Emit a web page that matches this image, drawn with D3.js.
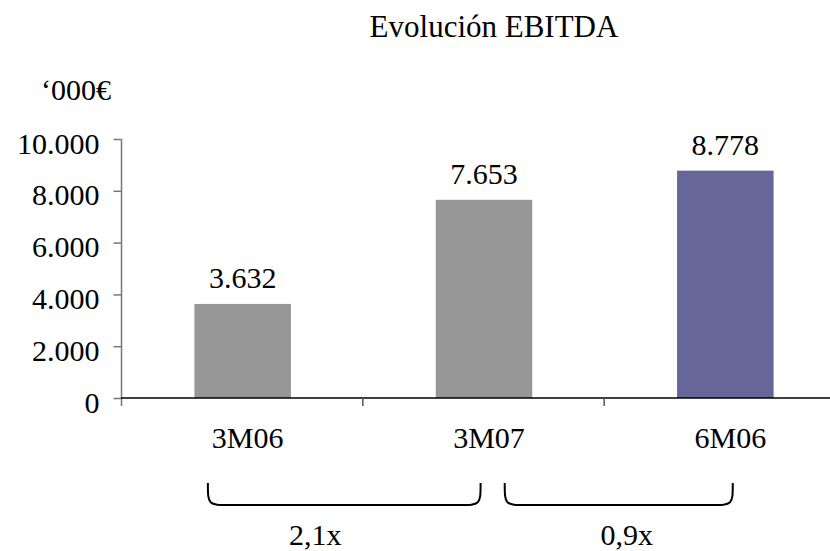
<!DOCTYPE html>
<html>
<head>
<meta charset="utf-8">
<script src="https://cdn.jsdelivr.net/npm/d3@7/dist/d3.min.js"></script>
<style>
  html, body { margin: 0; padding: 0; background: #fff; }
  svg { display: block; font-family: "Liberation Serif", "Times New Roman", serif; }
</style>
</head>
<body>
<svg id="chart" width="830" height="551"></svg>
<script>
// EBITDA by period, in thousands of euros
const categories = ["3M06", "3M07", "6M06"];
const values = [3632, 7653, 8778];
const valueLabels = ["3.632", "7.653", "8.778"];
const barColors = ["#969696", "#969696", "#666699"];

const yTicks = [0, 2000, 4000, 6000, 8000, 10000];
const yTickLabels = ["0", "2.000", "4.000", "6.000", "8.000", "10.000"];

// growth multiples shown under pairs of periods
const comparisons = [
  { from: "3M06", to: "3M07", label: "2,1x" },
  { from: "3M07", to: "6M06", label: "0,9x" }
];

const title = "Evolución EBITDA";
const unitLabel = "‘000€";

const svg = d3.select("#chart");
const W = 830, H = 551;
const serif = "Liberation Serif, Times New Roman, serif";
svg.append("rect").attr("width", W).attr("height", H).attr("fill", "#fff");

const x = d3.scaleBand().domain(categories).range([121, 845]).padding(0);
const y = d3.scaleLinear().domain([0, 10000]).range([398, 139]);
const barW = x.bandwidth() * 0.4;

// title and unit
svg.append("text").attr("x", 494).attr("y", 37).attr("text-anchor", "middle")
  .attr("font-size", 31).attr("fill", "#000").text(title);
svg.append("text").attr("x", 41).attr("y", 100).attr("text-anchor", "start")
  .attr("font-size", 30).attr("fill", "#000").text(unitLabel);

// bars
svg.selectAll("rect.bar").data(values).enter().append("rect")
  .attr("class", "bar")
  .attr("x", (d, i) => x(categories[i]) + x.bandwidth() / 2 - barW / 2 + 1)
  .attr("y", d => y(d))
  .attr("width", barW)
  .attr("height", d => y(0) - y(d))
  .attr("fill", (d, i) => barColors[i]);

// value labels
svg.selectAll("text.val").data(values).enter().append("text")
  .attr("class", "val")
  .attr("x", (d, i) => x(categories[i]) + x.bandwidth() / 2 + 1)
  .attr("y", d => y(d) - 16)
  .attr("text-anchor", "middle").attr("font-size", 30).attr("fill", "#000")
  .text((d, i) => valueLabels[i]);

// y axis
const yAxis = d3.axisLeft(y).tickValues(yTicks)
  .tickFormat((d, i) => yTickLabels[i]).tickSize(8).tickPadding(14);
const gy = svg.append("g").attr("transform", "translate(121.5,0)").call(yAxis);
gy.select(".domain").remove();
gy.append("line").attr("x1", 0).attr("x2", 0).attr("y1", y(10000)).attr("y2", y(0) + 8)
  .attr("stroke", "#777").attr("stroke-width", 1.5);
gy.selectAll(".tick line").attr("stroke", "#777").attr("stroke-width", 1.5);
gy.selectAll(".tick text").attr("font-size", 30).attr("fill", "#000")
  .attr("font-family", serif).attr("dy", "0.47em");

// x axis
const xAxis = d3.axisBottom(x).tickSize(0).tickPadding(0);
const gx = svg.append("g").attr("transform", `translate(0,${y(0)})`).call(xAxis);
gx.select(".domain").remove();
gx.append("line").attr("x1", 121).attr("x2", W).attr("y1", 0).attr("y2", 0)
  .attr("stroke", "#000").attr("stroke-width", 1.5);
gx.selectAll(".tick text").attr("font-size", 30).attr("fill", "#000")
  .attr("font-family", serif)
  .attr("dy", 0).attr("y", 50).attr("dx", 6);
// separators between categories
gx.selectAll("line.sep").data(categories.slice(1)).enter().append("line")
  .attr("class", "sep")
  .attr("x1", d => x(d) + 0.5).attr("x2", d => x(d) + 0.5)
  .attr("y1", 0).attr("y2", 8)
  .attr("stroke", "#555").attr("stroke-width", 1.5);

// braces with growth multiples
const braceTop = 483, braceBottom = 505, rx = 22;
const braceSpans = [[0.36, 0.49], [0.59, 0.535]];
comparisons.forEach((c, i) => {
  const x0 = x(c.from) + x.bandwidth() * braceSpans[i][0];
  const x1 = x(c.to) + x.bandwidth() * braceSpans[i][1];
  const p = d3.path();
  p.moveTo(x0, braceTop);
  p.bezierCurveTo(x0, braceBottom, x0, braceBottom, x0 + rx, braceBottom);
  p.lineTo(x1 - rx, braceBottom);
  p.bezierCurveTo(x1, braceBottom, x1, braceBottom, x1, braceTop);
  svg.append("path").attr("d", p.toString()).attr("fill", "none")
    .attr("stroke", "#000").attr("stroke-width", 2);
  svg.append("text").attr("x", (x0 + x1) / 2 - (i === 0 ? 29 : -8)).attr("y", 545)
    .attr("text-anchor", "middle").attr("font-size", 30).attr("fill", "#000")
    .text(c.label);
});
</script>
</body>
</html>
